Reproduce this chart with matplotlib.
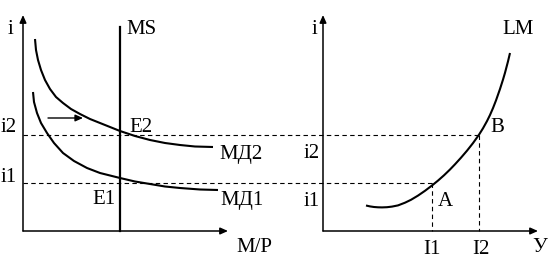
import matplotlib.pyplot as plt

# ── Curve points (pixel coords, y grows downward) ─────────────────────────────
md2_x = [35, 36, 38, 41, 45, 50, 56, 63, 71, 80, 90, 100, 110, 120,
         135, 150, 165, 180, 195, 213]
md2_y = [39, 50, 60, 70, 80, 89, 97, 103, 109, 114, 119, 123, 127, 131,
         136, 140, 143, 145, 146.5, 147]

md1_x = [33, 34, 37, 41, 47, 54, 63, 74, 87, 100, 110, 120,
         135, 150, 165, 180, 200, 218]
md1_y = [92, 102, 113, 123, 133, 143, 153, 161, 168, 173, 175.5, 178,
         181.5, 184, 186.5, 188, 189.5, 190]

lm_x = [366, 370, 374, 378, 382, 387, 392, 398, 405, 411, 418, 425, 432,
        438, 444, 450, 455, 461, 467, 473, 479, 483, 487, 490, 493, 496,
        500, 503, 505, 508, 510]
lm_y = [205.5, 206.4, 207.0, 207.3, 207.4, 207.2, 206.6, 205.4, 202.7,
        199.8, 195.6, 190.8, 185.5, 180.6, 175.3, 169.5, 164.3, 157.7,
        150.7, 143.1, 134.7, 128.3, 121.1, 115.0, 108.1, 100.4, 89.0,
        79.6, 72.8, 61.4, 53.0]

# interest levels and income levels
i_levels = {"i1": 183, "i2": 135}
y_levels = {"I1": 432, "I2": 479}
ms_x = 120

# axes frames: (origin x, origin y, x tip, y tip)
left_axes = (23, 231, 228, 15)
right_axes = (323, 231, 538, 15)

plt.rcParams["font.family"] = ["Liberation Serif", "DejaVu Serif"]

fig = plt.figure(figsize=(5.56, 2.66), dpi=100)
ax = fig.add_axes([0, 0, 1, 1])
ax.set_xlim(0, 556)
ax.set_ylim(266, 0)
ax.axis("off")

FS = 15
arrow_kw = dict(arrowstyle="-|>,head_length=0.45,head_width=0.2",
                color="black", lw=1.1, shrinkA=0, shrinkB=0)

# ── axes with arrows ──────────────────────────────────────────────────────────
for ox, oy, tx, ty in (left_axes, right_axes):
    ax.annotate("", xy=(ox, ty), xytext=(ox, oy), arrowprops=arrow_kw)
    ax.annotate("", xy=(tx, oy), xytext=(ox, oy), arrowprops=arrow_kw)

# ── dashed guide lines ────────────────────────────────────────────────────────
dash = dict(color="black", lw=0.8, dashes=(4, 3))
ax.plot([left_axes[0], y_levels["I1"]], [i_levels["i1"]] * 2, **dash)
ax.plot([left_axes[0], y_levels["I2"]], [i_levels["i2"]] * 2, **dash)
ax.plot([y_levels["I1"]] * 2, [i_levels["i1"], right_axes[1]], **dash)
ax.plot([y_levels["I2"]] * 2, [i_levels["i2"], right_axes[1]], **dash)

# ── curves ────────────────────────────────────────────────────────────────────
ax.plot([ms_x, ms_x], [27, left_axes[1]], color="black", lw=1.6)
for xs, ys in ((md2_x, md2_y), (md1_x, md1_y), (lm_x, lm_y)):
    ax.plot(xs, ys, color="black", lw=1.5, solid_joinstyle="round",
            solid_capstyle="butt")

# shift arrow
ax.annotate("", xy=(83, 118), xytext=(48, 118),
            arrowprops=dict(arrowstyle="-|>,head_length=0.45,head_width=0.2",
                            color="black", lw=1.0, shrinkA=0, shrinkB=0))

# ── labels ────────────────────────────────────────────────────────────────────
labels = [
    ("i", 10, 30, "center"), ("MS", 126, 30, "left"),
    ("i2", 1, 128, "left"), ("i1", 1, 177, "left"),
    ("E2", 129, 127, "left"), ("E1", 92, 200, "left"),
    ("МД2", 219, 154, "left"), ("МД1", 220, 200, "left"),
    ("M/P", 236, 248, "left"),
    ("i", 314, 30, "center"), ("LM", 502, 30, "left"),
    ("i2", 304, 154, "left"), ("i1", 304, 202, "left"),
    ("B", 490, 127, "left"), ("A", 438, 202, "left"),
    ("I1", 432, 250, "center"), ("I2", 481, 250, "center"),
    ("У", 540, 248, "center"),
]
for txt, x, y, ha in labels:
    ax.text(x, y, txt, fontsize=FS, ha=ha, va="center")

fig.savefig("out.png", dpi=100)
